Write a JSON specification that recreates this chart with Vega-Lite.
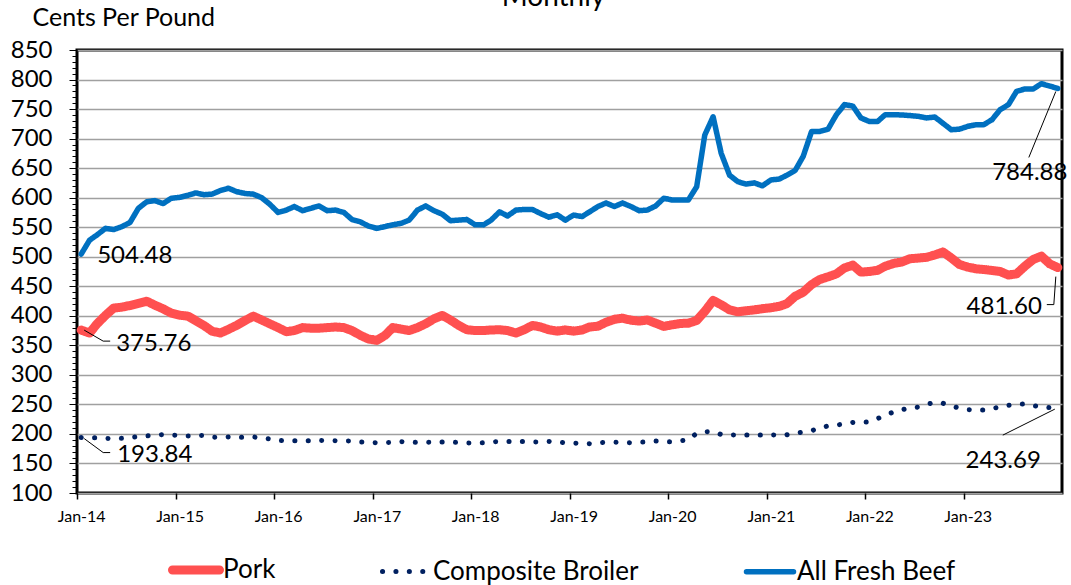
{
  "$schema": "https://vega.github.io/schema/vega-lite/v6.json",
  "width": 985,
  "height": 443,
  "autosize": {"type": "none"},
  "padding": {"left": 77, "top": 50, "right": 9, "bottom": 92},
  "background": "white",
  "config": {
    "font": "Lato",
    "view": {"stroke": "black", "strokeWidth": 3},
    "text": {"font": "Lato", "fontSize": 24, "color": "black"}
  },
  "title": {"text": "Monthly", "anchor": "middle", "frame": "group", "font": "Lato", "fontSize": 28, "fontWeight": "normal", "color": "black", "baseline": "alphabetic", "offset": 0, "dx": -16, "dy": 29},
  "data": {"values": [
    {"month": "2014-01-01", "Pork": 375.76, "Composite Broiler": 193.84, "All Fresh Beef": 504.48},
    {"month": "2014-02-01", "Pork": 370.8, "Composite Broiler": 193.5, "All Fresh Beef": 528},
    {"month": "2014-03-01", "Pork": 386.5, "Composite Broiler": 193.5, "All Fresh Beef": 537},
    {"month": "2014-04-01", "Pork": 400.6, "Composite Broiler": 192.5, "All Fresh Beef": 548},
    {"month": "2014-05-01", "Pork": 413, "Composite Broiler": 192.3, "All Fresh Beef": 546},
    {"month": "2014-06-01", "Pork": 414.6, "Composite Broiler": 192.5, "All Fresh Beef": 551},
    {"month": "2014-07-01", "Pork": 417.4, "Composite Broiler": 194, "All Fresh Beef": 558},
    {"month": "2014-08-01", "Pork": 421, "Composite Broiler": 195.5, "All Fresh Beef": 582},
    {"month": "2014-09-01", "Pork": 424.7, "Composite Broiler": 196.5, "All Fresh Beef": 593},
    {"month": "2014-10-01", "Pork": 418, "Composite Broiler": 198, "All Fresh Beef": 595},
    {"month": "2014-11-01", "Pork": 411.8, "Composite Broiler": 199, "All Fresh Beef": 590},
    {"month": "2014-12-01", "Pork": 404.5, "Composite Broiler": 198, "All Fresh Beef": 599},
    {"month": "2015-01-01", "Pork": 401, "Composite Broiler": 197.5, "All Fresh Beef": 600.5},
    {"month": "2015-02-01", "Pork": 399.4, "Composite Broiler": 196.5, "All Fresh Beef": 604},
    {"month": "2015-03-01", "Pork": 392, "Composite Broiler": 197, "All Fresh Beef": 608},
    {"month": "2015-04-01", "Pork": 383.7, "Composite Broiler": 197.5, "All Fresh Beef": 605},
    {"month": "2015-05-01", "Pork": 374, "Composite Broiler": 194.5, "All Fresh Beef": 606},
    {"month": "2015-06-01", "Pork": 370.8, "Composite Broiler": 194, "All Fresh Beef": 612},
    {"month": "2015-07-01", "Pork": 377, "Composite Broiler": 195, "All Fresh Beef": 616},
    {"month": "2015-08-01", "Pork": 384, "Composite Broiler": 194.5, "All Fresh Beef": 610},
    {"month": "2015-09-01", "Pork": 392, "Composite Broiler": 194.5, "All Fresh Beef": 607},
    {"month": "2015-10-01", "Pork": 399.4, "Composite Broiler": 195, "All Fresh Beef": 606},
    {"month": "2015-11-01", "Pork": 393, "Composite Broiler": 193, "All Fresh Beef": 600},
    {"month": "2015-12-01", "Pork": 386.5, "Composite Broiler": 191.5, "All Fresh Beef": 589},
    {"month": "2016-01-01", "Pork": 380, "Composite Broiler": 189, "All Fresh Beef": 575},
    {"month": "2016-02-01", "Pork": 373, "Composite Broiler": 188.4, "All Fresh Beef": 579},
    {"month": "2016-03-01", "Pork": 375, "Composite Broiler": 188.4, "All Fresh Beef": 585},
    {"month": "2016-04-01", "Pork": 380, "Composite Broiler": 188.4, "All Fresh Beef": 578},
    {"month": "2016-05-01", "Pork": 379, "Composite Broiler": 188.4, "All Fresh Beef": 582},
    {"month": "2016-06-01", "Pork": 379, "Composite Broiler": 189, "All Fresh Beef": 586},
    {"month": "2016-07-01", "Pork": 380, "Composite Broiler": 188.5, "All Fresh Beef": 578},
    {"month": "2016-08-01", "Pork": 381, "Composite Broiler": 188.4, "All Fresh Beef": 579},
    {"month": "2016-09-01", "Pork": 380, "Composite Broiler": 188, "All Fresh Beef": 575},
    {"month": "2016-10-01", "Pork": 375, "Composite Broiler": 187.9, "All Fresh Beef": 563},
    {"month": "2016-11-01", "Pork": 367, "Composite Broiler": 186.5, "All Fresh Beef": 559},
    {"month": "2016-12-01", "Pork": 360.7, "Composite Broiler": 185.6, "All Fresh Beef": 552},
    {"month": "2017-01-01", "Pork": 358.4, "Composite Broiler": 185, "All Fresh Beef": 548},
    {"month": "2017-02-01", "Pork": 367, "Composite Broiler": 185.3, "All Fresh Beef": 551},
    {"month": "2017-03-01", "Pork": 380, "Composite Broiler": 185.6, "All Fresh Beef": 554},
    {"month": "2017-04-01", "Pork": 377.5, "Composite Broiler": 187, "All Fresh Beef": 556.5},
    {"month": "2017-05-01", "Pork": 375, "Composite Broiler": 186.5, "All Fresh Beef": 562},
    {"month": "2017-06-01", "Pork": 380, "Composite Broiler": 185.6, "All Fresh Beef": 579},
    {"month": "2017-07-01", "Pork": 386.5, "Composite Broiler": 186, "All Fresh Beef": 586},
    {"month": "2017-08-01", "Pork": 395, "Composite Broiler": 186.2, "All Fresh Beef": 578},
    {"month": "2017-09-01", "Pork": 400.6, "Composite Broiler": 186.2, "All Fresh Beef": 572},
    {"month": "2017-10-01", "Pork": 393, "Composite Broiler": 186, "All Fresh Beef": 561},
    {"month": "2017-11-01", "Pork": 383.7, "Composite Broiler": 185.6, "All Fresh Beef": 562},
    {"month": "2017-12-01", "Pork": 376.4, "Composite Broiler": 184.8, "All Fresh Beef": 563},
    {"month": "2018-01-01", "Pork": 375, "Composite Broiler": 184.5, "All Fresh Beef": 554},
    {"month": "2018-02-01", "Pork": 375, "Composite Broiler": 185, "All Fresh Beef": 554},
    {"month": "2018-03-01", "Pork": 376, "Composite Broiler": 186.5, "All Fresh Beef": 562},
    {"month": "2018-04-01", "Pork": 376.4, "Composite Broiler": 187.3, "All Fresh Beef": 576},
    {"month": "2018-05-01", "Pork": 375, "Composite Broiler": 187.3, "All Fresh Beef": 569},
    {"month": "2018-06-01", "Pork": 370.8, "Composite Broiler": 187.3, "All Fresh Beef": 579},
    {"month": "2018-07-01", "Pork": 376.4, "Composite Broiler": 187.3, "All Fresh Beef": 580},
    {"month": "2018-08-01", "Pork": 383.7, "Composite Broiler": 186.5, "All Fresh Beef": 580},
    {"month": "2018-09-01", "Pork": 381, "Composite Broiler": 186.2, "All Fresh Beef": 573},
    {"month": "2018-10-01", "Pork": 376.4, "Composite Broiler": 187.3, "All Fresh Beef": 567},
    {"month": "2018-11-01", "Pork": 374, "Composite Broiler": 186.5, "All Fresh Beef": 571},
    {"month": "2018-12-01", "Pork": 376, "Composite Broiler": 185, "All Fresh Beef": 562},
    {"month": "2019-01-01", "Pork": 374, "Composite Broiler": 184.5, "All Fresh Beef": 570.5},
    {"month": "2019-02-01", "Pork": 376, "Composite Broiler": 184, "All Fresh Beef": 568},
    {"month": "2019-03-01", "Pork": 381, "Composite Broiler": 183.5, "All Fresh Beef": 576},
    {"month": "2019-04-01", "Pork": 382.4, "Composite Broiler": 185, "All Fresh Beef": 585},
    {"month": "2019-05-01", "Pork": 389, "Composite Broiler": 186, "All Fresh Beef": 591},
    {"month": "2019-06-01", "Pork": 394, "Composite Broiler": 186, "All Fresh Beef": 585},
    {"month": "2019-07-01", "Pork": 396, "Composite Broiler": 185.5, "All Fresh Beef": 591},
    {"month": "2019-08-01", "Pork": 392.6, "Composite Broiler": 185, "All Fresh Beef": 585},
    {"month": "2019-09-01", "Pork": 391, "Composite Broiler": 186, "All Fresh Beef": 578},
    {"month": "2019-10-01", "Pork": 393, "Composite Broiler": 186.5, "All Fresh Beef": 579},
    {"month": "2019-11-01", "Pork": 387.5, "Composite Broiler": 188, "All Fresh Beef": 586},
    {"month": "2019-12-01", "Pork": 382, "Composite Broiler": 187, "All Fresh Beef": 599},
    {"month": "2020-01-01", "Pork": 384.7, "Composite Broiler": 186.5, "All Fresh Beef": 596},
    {"month": "2020-02-01", "Pork": 387, "Composite Broiler": 188.5, "All Fresh Beef": 596},
    {"month": "2020-03-01", "Pork": 387.5, "Composite Broiler": 190, "All Fresh Beef": 596},
    {"month": "2020-04-01", "Pork": 392, "Composite Broiler": 201, "All Fresh Beef": 618.5},
    {"month": "2020-05-01", "Pork": 407.4, "Composite Broiler": 203.5, "All Fresh Beef": 706},
    {"month": "2020-06-01", "Pork": 426, "Composite Broiler": 204, "All Fresh Beef": 737},
    {"month": "2020-07-01", "Pork": 418.7, "Composite Broiler": 199, "All Fresh Beef": 675},
    {"month": "2020-08-01", "Pork": 410, "Composite Broiler": 198.5, "All Fresh Beef": 638},
    {"month": "2020-09-01", "Pork": 406.8, "Composite Broiler": 198, "All Fresh Beef": 627},
    {"month": "2020-10-01", "Pork": 408.5, "Composite Broiler": 198, "All Fresh Beef": 623},
    {"month": "2020-11-01", "Pork": 410, "Composite Broiler": 198, "All Fresh Beef": 625},
    {"month": "2020-12-01", "Pork": 412, "Composite Broiler": 198, "All Fresh Beef": 620},
    {"month": "2021-01-01", "Pork": 413.6, "Composite Broiler": 198.5, "All Fresh Beef": 630},
    {"month": "2021-02-01", "Pork": 416, "Composite Broiler": 198, "All Fresh Beef": 631.5},
    {"month": "2021-03-01", "Pork": 420.5, "Composite Broiler": 198.5, "All Fresh Beef": 638},
    {"month": "2021-04-01", "Pork": 433, "Composite Broiler": 201.5, "All Fresh Beef": 646},
    {"month": "2021-05-01", "Pork": 440, "Composite Broiler": 203, "All Fresh Beef": 670},
    {"month": "2021-06-01", "Pork": 452.8, "Composite Broiler": 205.5, "All Fresh Beef": 712},
    {"month": "2021-07-01", "Pork": 461.4, "Composite Broiler": 210, "All Fresh Beef": 712},
    {"month": "2021-08-01", "Pork": 466, "Composite Broiler": 213.5, "All Fresh Beef": 716},
    {"month": "2021-09-01", "Pork": 471, "Composite Broiler": 215, "All Fresh Beef": 740.5},
    {"month": "2021-10-01", "Pork": 481, "Composite Broiler": 217, "All Fresh Beef": 757.5},
    {"month": "2021-11-01", "Pork": 485.8, "Composite Broiler": 219.5, "All Fresh Beef": 755},
    {"month": "2021-12-01", "Pork": 474, "Composite Broiler": 219.6, "All Fresh Beef": 735},
    {"month": "2022-01-01", "Pork": 475, "Composite Broiler": 220.5, "All Fresh Beef": 729},
    {"month": "2022-02-01", "Pork": 477, "Composite Broiler": 226, "All Fresh Beef": 729},
    {"month": "2022-03-01", "Pork": 484, "Composite Broiler": 232, "All Fresh Beef": 740.5},
    {"month": "2022-04-01", "Pork": 488.6, "Composite Broiler": 237, "All Fresh Beef": 740.5},
    {"month": "2022-05-01", "Pork": 491, "Composite Broiler": 241, "All Fresh Beef": 740},
    {"month": "2022-06-01", "Pork": 496.6, "Composite Broiler": 244, "All Fresh Beef": 739},
    {"month": "2022-07-01", "Pork": 497.7, "Composite Broiler": 245.5, "All Fresh Beef": 737.7},
    {"month": "2022-08-01", "Pork": 499, "Composite Broiler": 250, "All Fresh Beef": 735},
    {"month": "2022-09-01", "Pork": 503, "Composite Broiler": 253.5, "All Fresh Beef": 736.5},
    {"month": "2022-10-01", "Pork": 508, "Composite Broiler": 252, "All Fresh Beef": 726},
    {"month": "2022-11-01", "Pork": 498, "Composite Broiler": 247, "All Fresh Beef": 715},
    {"month": "2022-12-01", "Pork": 487, "Composite Broiler": 244, "All Fresh Beef": 716},
    {"month": "2023-01-01", "Pork": 482.4, "Composite Broiler": 241, "All Fresh Beef": 720.7},
    {"month": "2023-02-01", "Pork": 479.5, "Composite Broiler": 240.5, "All Fresh Beef": 723.5},
    {"month": "2023-03-01", "Pork": 478.4, "Composite Broiler": 240.5, "All Fresh Beef": 723.5},
    {"month": "2023-04-01", "Pork": 476.7, "Composite Broiler": 243, "All Fresh Beef": 732},
    {"month": "2023-05-01", "Pork": 475, "Composite Broiler": 245.5, "All Fresh Beef": 749},
    {"month": "2023-06-01", "Pork": 469, "Composite Broiler": 248.5, "All Fresh Beef": 757.5},
    {"month": "2023-07-01", "Pork": 471, "Composite Broiler": 250, "All Fresh Beef": 780},
    {"month": "2023-08-01", "Pork": 484, "Composite Broiler": 250.7, "All Fresh Beef": 784},
    {"month": "2023-09-01", "Pork": 495.5, "Composite Broiler": 248, "All Fresh Beef": 784},
    {"month": "2023-10-01", "Pork": 501, "Composite Broiler": 245.5, "All Fresh Beef": 793},
    {"month": "2023-11-01", "Pork": 488, "Composite Broiler": 244.5, "All Fresh Beef": 789},
    {"month": "2023-12-01", "Pork": 481.6, "Composite Broiler": 243.69, "All Fresh Beef": 784.88}
  ]},
  "transform": [
    {"fold": ["Pork", "Composite Broiler", "All Fresh Beef"], "as": ["series", "value"]}
  ],
  "encoding": {
    "x": {
      "field": "month", "type": "temporal",
      "scale": {"type": "utc", "domain": [{"year": 2013, "month": 12, "date": 16, "hours": 12, "utc": true}, {"year": 2023, "month": 12, "date": 16, "hours": 12, "utc": true}]},
      "axis": {
        "title": null, "domain": false, "grid": false,
        "values": [
          {"year": 2014, "month": 1, "date": 1, "utc": true},
          {"year": 2015, "month": 1, "date": 1, "utc": true},
          {"year": 2016, "month": 1, "date": 1, "utc": true},
          {"year": 2017, "month": 1, "date": 1, "utc": true},
          {"year": 2018, "month": 1, "date": 1, "utc": true},
          {"year": 2019, "month": 1, "date": 1, "utc": true},
          {"year": 2020, "month": 1, "date": 1, "utc": true},
          {"year": 2021, "month": 1, "date": 1, "utc": true},
          {"year": 2022, "month": 1, "date": 1, "utc": true},
          {"year": 2023, "month": 1, "date": 1, "utc": true}
        ],
        "labelExpr": "utcFormat(datum.value, '%b-%y')",
        "labelFont": "Lato", "labelFontSize": 16, "labelColor": "black",
        "tickColor": "black", "tickSize": 6, "tickWidth": 1.5,
        "tickOffset": -4, "labelOffset": 4, "labelPadding": 9, "labelFlush": false
      }
    },
    "y": {
      "field": "value", "type": "quantitative",
      "scale": {"domain": [100, 850], "nice": false, "zero": false},
      "axis": {
        "title": "Cents Per Pound", "titleAngle": 0, "titleAlign": "left", "titleBaseline": "alphabetic",
        "titleX": -45, "titleY": -25, "titleFont": "Lato", "titleFontSize": 25, "titleFontWeight": "normal", "titleColor": "black",
        "domain": false,
        "values": [100,110,120,130,140,150,160,170,180,190,200,210,220,230,240,250,260,270,280,290,300,310,320,330,340,350,360,370,380,390,400,410,420,430,440,450,460,470,480,490,500,510,520,530,540,550,560,570,580,590,600,610,620,630,640,650,660,670,680,690,700,710,720,730,740,750,760,770,780,790,800,810,820,830,840,850],
        "labelExpr": "datum.value % 50 === 0 ? datum.label : ''",
        "labelOverlap": false, "labelFlush": false,
        "labelFont": "Lato", "labelFontSize": 24, "labelColor": "black", "labelPadding": 17,
        "tickColor": "black", "tickWidth": 1,
        "tickSize": {"condition": {"test": "datum.value % 50 === 0", "value": 8}, "value": 5},
        "grid": true, "gridColor": "#A0A0A0", "gridWidth": 1.5,
        "gridOpacity": {"condition": {"test": "datum.value % 50 === 0", "value": 1}, "value": 0}
      }
    }
  },
  "layer": [
    {
      "mark": {"type": "line", "strokeCap": "round", "strokeJoin": "round"},
      "encoding": {
        "color": {
          "field": "series", "type": "nominal",
          "scale": {"domain": ["Pork", "Composite Broiler", "All Fresh Beef"], "range": ["#FF5050", "#002060", "#0070C0"]},
          "legend": {
            "title": null, "orient": "none", "legendX": 91, "legendY": 492, "direction": "horizontal", "columns": 3,
            "columnPadding": 96, "symbolType": "stroke", "symbolSize": 2209, "labelFont": "Lato", "labelFontSize": 26,
            "labelColor": "black", "labelOffset": -1, "labelLimit": 400,
            "encode": {"symbols": {"update": {"strokeCap": {"value": "round"}}}}
          }
        },
        "strokeWidth": {
          "field": "series", "type": "nominal",
          "scale": {"type": "ordinal", "domain": ["Pork", "Composite Broiler", "All Fresh Beef"], "range": [9, 5, 5.5]}
        },
        "strokeDash": {
          "field": "series", "type": "nominal",
          "scale": {"domain": ["Pork", "Composite Broiler", "All Fresh Beef"], "range": [[1, 0], [0.1, 13.3], [1, 0]]}
        }
      }
    },
    {
      "transform": [{"filter": "datum.series === 'All Fresh Beef' && utcyear(datum.month) === 2014 && utcmonth(datum.month) === 0"}],
      "mark": {"type": "text", "align": "left", "baseline": "middle", "dx": 16, "dy": 2},
      "encoding": {"text": {"field": "value", "format": ".2f"}}
    },
    {
      "transform": [{"filter": "datum.series === 'Pork' && utcyear(datum.month) === 2014 && utcmonth(datum.month) === 0"}],
      "mark": {"type": "text", "align": "left", "baseline": "middle", "dx": 35, "dy": 14},
      "encoding": {"text": {"field": "value", "format": ".2f"}}
    },
    {
      "transform": [{"filter": "datum.series === 'Composite Broiler' && utcyear(datum.month) === 2014 && utcmonth(datum.month) === 0"}],
      "mark": {"type": "text", "align": "left", "baseline": "middle", "dx": 36, "dy": 17},
      "encoding": {"text": {"field": "value", "format": ".2f"}}
    },
    {
      "transform": [{"filter": "datum.series === 'All Fresh Beef' && utcyear(datum.month) === 2023 && utcmonth(datum.month) === 11"}],
      "mark": {"type": "text", "align": "center", "baseline": "middle", "dx": -28, "dy": 85},
      "encoding": {"text": {"field": "value", "format": ".2f"}}
    },
    {
      "transform": [{"filter": "datum.series === 'Pork' && utcyear(datum.month) === 2023 && utcmonth(datum.month) === 11"}],
      "mark": {"type": "text", "align": "right", "baseline": "middle", "dx": -16, "dy": 39},
      "encoding": {"text": {"field": "value", "format": ".2f"}}
    },
    {
      "transform": [{"filter": "datum.series === 'Composite Broiler' && utcyear(datum.month) === 2023 && utcmonth(datum.month) === 11"}],
      "mark": {"type": "text", "align": "right", "baseline": "middle", "dx": -17, "dy": 53},
      "encoding": {"text": {"field": "value", "format": ".2f"}}
    },
    {
      "transform": [{"filter": "datum.series === 'Pork' && utcyear(datum.month) === 2014 && utcmonth(datum.month) === 0"}],
      "mark": {"type": "rule", "color": "black", "strokeWidth": 1, "xOffset": 3, "yOffset": 0, "x2Offset": 22, "y2Offset": 11},
      "encoding": {"x2": {"field": "month"}, "y2": {"field": "value"}}
    },
    {
      "transform": [{"filter": "datum.series === 'Pork' && utcyear(datum.month) === 2014 && utcmonth(datum.month) === 0"}],
      "mark": {"type": "rule", "color": "black", "strokeWidth": 1, "xOffset": 22, "yOffset": 11, "x2Offset": 29, "y2Offset": 11},
      "encoding": {"x2": {"field": "month"}, "y2": {"field": "value"}}
    },
    {
      "transform": [{"filter": "datum.series === 'Composite Broiler' && utcyear(datum.month) === 2014 && utcmonth(datum.month) === 0"}],
      "mark": {"type": "rule", "color": "black", "strokeWidth": 1, "xOffset": 3, "yOffset": 1, "x2Offset": 22, "y2Offset": 15},
      "encoding": {"x2": {"field": "month"}, "y2": {"field": "value"}}
    },
    {
      "transform": [{"filter": "datum.series === 'Composite Broiler' && utcyear(datum.month) === 2014 && utcmonth(datum.month) === 0"}],
      "mark": {"type": "rule", "color": "black", "strokeWidth": 1, "xOffset": 22, "yOffset": 15, "x2Offset": 29, "y2Offset": 15},
      "encoding": {"x2": {"field": "month"}, "y2": {"field": "value"}}
    },
    {
      "transform": [{"filter": "datum.series === 'All Fresh Beef' && utcyear(datum.month) === 2023 && utcmonth(datum.month) === 11"}],
      "mark": {"type": "rule", "color": "black", "strokeWidth": 1, "xOffset": -2, "yOffset": 3, "x2Offset": -29, "y2Offset": 69},
      "encoding": {"x2": {"field": "month"}, "y2": {"field": "value"}}
    },
    {
      "transform": [{"filter": "datum.series === 'Pork' && utcyear(datum.month) === 2023 && utcmonth(datum.month) === 11"}],
      "mark": {"type": "rule", "color": "black", "strokeWidth": 1, "xOffset": -2, "yOffset": 9, "x2Offset": -4, "y2Offset": 37},
      "encoding": {"x2": {"field": "month"}, "y2": {"field": "value"}}
    },
    {
      "transform": [{"filter": "datum.series === 'Pork' && utcyear(datum.month) === 2023 && utcmonth(datum.month) === 11"}],
      "mark": {"type": "rule", "color": "black", "strokeWidth": 1, "xOffset": -4, "yOffset": 37, "x2Offset": -11, "y2Offset": 37},
      "encoding": {"x2": {"field": "month"}, "y2": {"field": "value"}}
    },
    {
      "transform": [{"filter": "datum.series === 'Composite Broiler' && utcyear(datum.month) === 2023 && utcmonth(datum.month) === 11"}],
      "mark": {"type": "rule", "color": "black", "strokeWidth": 1, "xOffset": -3, "yOffset": 1, "x2Offset": -55, "y2Offset": 27},
      "encoding": {"x2": {"field": "month"}, "y2": {"field": "value"}}
    }
  ]
}
